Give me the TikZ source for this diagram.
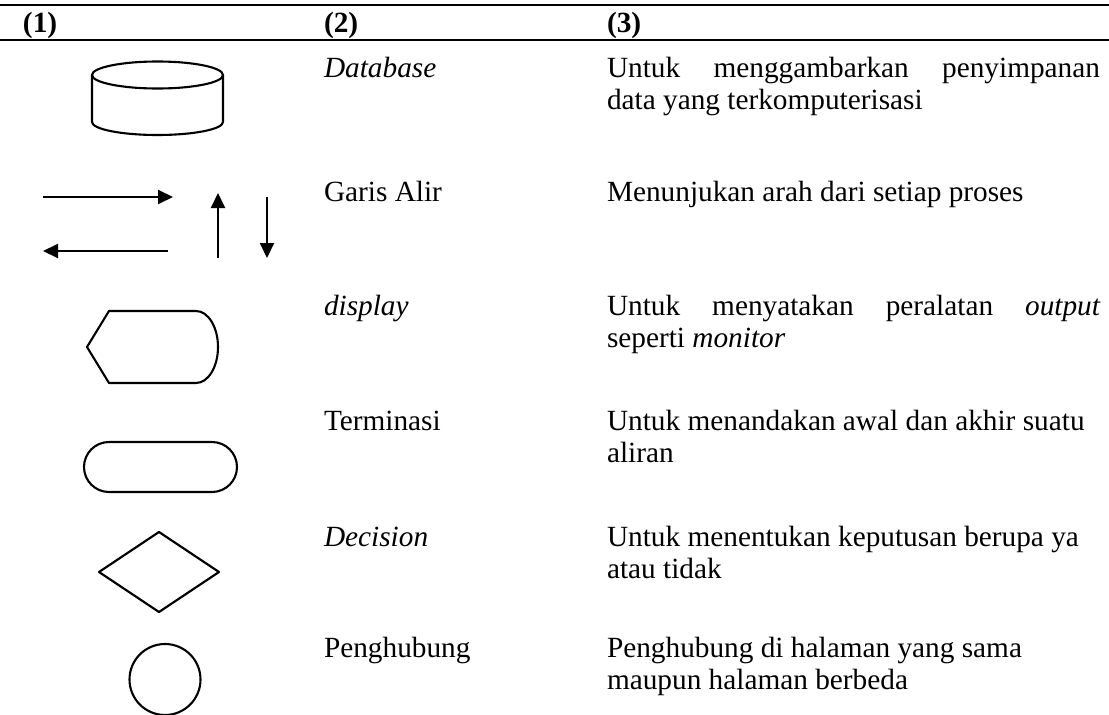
\documentclass[tikz,border=0pt]{standalone}
\usepackage{fontspec}
\setmainfont{Liberation Serif}
\usetikzlibrary{arrows.meta}
\begin{document}
\begin{tikzpicture}[x=1pt,y=-1pt,
  txt/.style={anchor=base west,inner sep=0pt,outer sep=0pt,font=\fontsize{29.3}{32}\selectfont},
  hdr/.style={txt,font=\fontsize{29.3}{32}\selectfont\bfseries},
  shp/.style={draw=black,line width=2.1pt,line join=round},
  rule/.style={draw=black,line width=2.2pt},
  flow/.style={draw=black,line width=2pt,-{Triangle[length=15pt,width=14pt]}}]
\useasboundingbox (0,0) rectangle (1109,715);
% header rules
\draw[rule] (0,5) -- (1109,5);
\draw[rule] (0,40) -- (1109,40);
\node[hdr] (h1) at (23,32) {(1)};
\node[hdr] (h2) at (324,32) {(2)};
\node[hdr] (h3) at (607,32) {(3)};
% row 1: database
\draw[shp] (157.5,75) ellipse [x radius=65.5, y radius=13.5];
\draw[shp] (92,75) -- (92,122) arc[start angle=180,end angle=0,x radius=65.5,y radius=13] -- (223,75);
\node[txt] (n1) at (324,77) {\itshape Database};
\node[txt] (d1a) at (607,77) {\hbox to 493pt{Untuk\hfill menggambarkan\hfill penyimpanan}};
\node[txt] (d1b) at (607,109) {data yang terkomputerisasi};
% row 2: flow lines
\coordinate (r1) at (43,197); \coordinate (r2) at (173,197);
\coordinate (l1) at (168,251); \coordinate (l2) at (43,251);
\coordinate (u1) at (218,258); \coordinate (u2) at (218,193);
\coordinate (w1) at (267,197); \coordinate (w2) at (267,258);
\draw[flow] (r1) -- (r2);
\draw[flow] (l1) -- (l2);
\draw[flow] (u1) -- (u2);
\draw[flow] (w1) -- (w2);
\node[txt] (n2) at (324,201) {Garis Alir};
\node[txt] (d2) at (607,201) {Menunjukan arah dari setiap proses};
% row 3: display
\draw[shp] (87,347) -- (109,311) -- (196,311)
  arc[start angle=-90,end angle=90,x radius=22,y radius=36] -- (109,383) -- cycle;
\node[txt] (n3) at (324,315) {\itshape display};
\node[txt] (d3a) at (607,315) {\hbox to 493pt{Untuk\hfill menyatakan\hfill peralatan\hfill \itshape output}};
\node[txt] (d3b) at (607,347) {seperti \textit{monitor}};
% row 4: terminator
\draw[shp,rounded corners=25pt] (84,442) rectangle (237,492);
\node[txt] (n4) at (324,430) {Terminasi};
\node[txt] (d4a) at (607,430) {Untuk menandakan awal dan akhir suatu};
\node[txt] (d4b) at (607,462) {aliran};
% row 5: decision
\draw[shp] (99,572) -- (159,532) -- (219,572) -- (159,612) -- cycle;
\node[txt] (n5) at (324,546) {\itshape Decision};
\node[txt] (d5a) at (607,546) {Untuk menentukan keputusan berupa ya};
\node[txt] (d5b) at (607,578) {atau tidak};
% row 6: connector
\draw[shp] (165,679.5) circle[radius=35.5];
\node[txt] (n6) at (324,657) {Penghubung};
\node[txt] (d6a) at (607,657) {Penghubung di halaman yang sama};
\node[txt] (d6b) at (607,689) {maupun halaman berbeda};
\end{tikzpicture}
\end{document}
